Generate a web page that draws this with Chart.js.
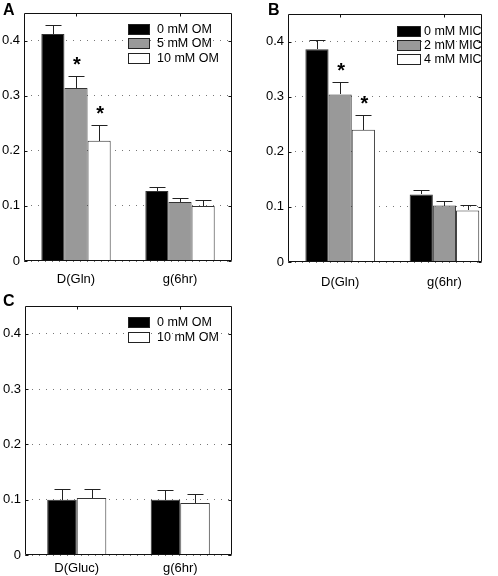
<!DOCTYPE html>
<html>
<head>
<meta charset="utf-8">
<script src="https://cdn.jsdelivr.net/npm/chart.js@4.4.1/dist/chart.umd.min.js"></script>
<style>
body { margin: 0; background: #fff; }
#wrap { position: relative; width: 498px; height: 576px; background: #fff; }
canvas { position: absolute; }
</style>
</head>
<body>
<div id="wrap">
<canvas id="chartA" width="250" height="290" style="left:0;top:0"></canvas>
<canvas id="chartB" width="248" height="290" style="left:250px;top:0"></canvas>
<canvas id="chartC" width="250" height="286" style="left:0;top:290px"></canvas>
</div>
<script>
// categories and ticks
const catsGln = ['D(Gln)', 'g(6hr)'];
const catsGluc = ['D(Gluc)', 'g(6hr)'];
const catPos = [1, 2];
const yTicks = [0, 0.1, 0.2, 0.3, 0.4];

// A: OM, glutamine
const omLabels = ['0 mM OM', '5 mM OM', '10 mM OM'];
const omMean0 = [0.412, 0.127];
const omMean5 = [0.314, 0.107];
const omMean10 = [0.218, 0.100];
const omErr0 = [0.016, 0.008];
const omErr5 = [0.021, 0.008];
const omErr10 = [0.028, 0.010];
const omSig5 = [true, false];
const omSig10 = [true, false];

// B: MIC, glutamine
const micLabels = ['0 mM MIC', '2 mM MIC', '4 mM MIC'];
const micMean0 = [0.386, 0.1225];
const micMean2 = [0.304, 0.1025];
const micMean4 = [0.240, 0.0935];
const micErr0 = [0.017, 0.0075];
const micErr2 = [0.023, 0.0075];
const micErr4 = [0.026, 0.0095];
const micSig2 = [true, false];
const micSig4 = [true, false];

// C: OM, glucose
const glucLabels = ['0 mM OM', '10 mM OM'];
const glucMean0 = [0.100, 0.100];
const glucMean10 = [0.103, 0.094];
const glucErr0 = [0.019, 0.0175];
const glucErr10 = [0.016, 0.016];

const BLACK = '#000000', GRAY = '#999999', WHITE = '#ffffff';
const FONT = '"Liberation Sans", Arial, sans-serif';

function series(label, color, means, errs, sig) {
    return {
        label: label,
        data: catPos.map((x, i) => ({ x: x, y: means[i] })),
        errors: errs,
        stars: sig || [],
        backgroundColor: color,
        borderColor: '#333',
        borderWidth: 1,
        barPercentage: 1
    };
}

const figPlugin = {
    id: 'fig',
    afterDatasetsDraw(chart) {
        const ctx = chart.ctx;
        const y = chart.scales.y;
        ctx.save();
        chart.data.datasets.forEach((ds, i) => {
            chart.getDatasetMeta(i).data.forEach((bar, j) => {
                const top = Math.round(y.getPixelForValue(ds.data[j].y + ds.errors[j])) + 0.5;
                const cx = Math.round(bar.x) + 0.5;
                ctx.strokeStyle = '#222';
                ctx.lineWidth = 1;
                ctx.beginPath();
                ctx.moveTo(cx, Math.round(bar.y));
                ctx.lineTo(cx, top);
                ctx.moveTo(cx - 8, top);
                ctx.lineTo(cx + 8, top);
                ctx.stroke();
                if (ds.stars[j]) {
                    ctx.fillStyle = '#000';
                    ctx.font = 'bold 20px ' + FONT;
                    ctx.textAlign = 'center';
                    ctx.textBaseline = 'alphabetic';
                    ctx.fillText('*', bar.x + 1, top - 5.5);
                }
            });
        });
        ctx.restore();
    },
    afterDraw(chart, args, opts) {
        const ctx = chart.ctx;
        const a = chart.chartArea;
        const xs = chart.scales.x, ys = chart.scales.y;
        const L = Math.round(a.left) + 0.5, R = Math.round(a.right) - 0.5;
        const T = Math.round(a.top) + 0.5, B = Math.round(a.bottom) - 0.5;
        ctx.save();
        ctx.strokeStyle = '#111';
        ctx.lineWidth = 1;
        ctx.beginPath();
        ctx.rect(L, T, R - L, B - T);
        // inward ticks
        catPos.forEach(v => {
            const px = Math.round(xs.getPixelForValue(v)) + 0.5;
            ctx.moveTo(px, T); ctx.lineTo(px, T + 3);
        });
        yTicks.forEach(v => {
            const py = Math.round(ys.getPixelForValue(v)) + 0.5;
            ctx.moveTo(L, py); ctx.lineTo(L + 3, py);
            ctx.moveTo(R, py); ctx.lineTo(R - 3, py);
        });
        ctx.stroke();

        // legend
        const lg = opts.legend;
        ctx.font = '12.5px ' + FONT;
        ctx.textAlign = 'left';
        ctx.textBaseline = 'middle';
        chart.data.datasets.forEach((ds, i) => {
            const cy = lg.y + i * lg.row;
            ctx.fillStyle = ds.backgroundColor;
            ctx.fillRect(lg.x, Math.round(cy - lg.h / 2), lg.w, lg.h);
            ctx.strokeStyle = '#222';
            ctx.strokeRect(lg.x + 0.5, Math.round(cy - lg.h / 2) + 0.5, lg.w - 1, lg.h - 1);
            ctx.fillStyle = '#000';
            ctx.fillText(ds.label, lg.x + lg.w + lg.gap, cy + 0.5);
        });

        // panel letter
        ctx.font = 'bold 16px ' + FONT;
        ctx.textBaseline = 'alphabetic';
        ctx.fillStyle = '#000';
        ctx.fillText(opts.letter, opts.letterX, opts.letterY);
        ctx.restore();
    }
};

function makeChart(id, cats, datasets, p) {
    return new Chart(document.getElementById(id), {
        type: 'bar',
        data: { datasets: datasets },
        options: {
            responsive: false,
            animation: false,
            layout: { padding: { top: p.top, right: p.right, left: 0, bottom: 0 } },
            plugins: {
                legend: { display: false },
                tooltip: { enabled: false },
                fig: { legend: p.legend, letter: p.letter, letterX: p.letterX, letterY: p.letterY }
            },
            scales: {
                x: {
                    type: 'linear',
                    min: 0.5,
                    max: p.xMax,
                    offset: false,
                    grid: { display: false, offset: false, drawTicks: false },
                    border: { display: false },
                    afterBuildTicks: s => { s.ticks = catPos.map(v => ({ value: v })); },
                    afterFit: s => { s.height = p.xHeight; },
                    ticks: {
                        autoSkip: false,
                        maxRotation: 0,
                        padding: p.xPad,
                        color: '#000',
                        font: { family: FONT, size: 13 },
                        callback: v => cats[catPos.indexOf(v)]
                    }
                },
                y: {
                    min: 0,
                    max: 0.45,
                    grid: { color: '#777', lineWidth: 1, drawTicks: false },
                    border: { display: false, dash: [1, 6] },
                    afterBuildTicks: s => { s.ticks = yTicks.map(v => ({ value: v })); },
                    afterFit: s => { s.width = p.yWidth; },
                    ticks: {
                        padding: 4,
                        color: '#000',
                        font: { family: FONT, size: 13 },
                        callback: v => (v === 0 ? '0' : v.toFixed(1))
                    }
                }
            }
        },
        plugins: [figPlugin]
    });
}

function grouped(list, share) {
    return list.map(d => Object.assign(d, { categoryPercentage: share }));
}

makeChart('chartA', catsGln, grouped([
    series(omLabels[0], BLACK, omMean0, omErr0),
    series(omLabels[1], GRAY, omMean5, omErr5, omSig5),
    series(omLabels[2], WHITE, omMean10, omErr10, omSig10)
], 0.667), {
    top: 13, right: 18, yWidth: 24, xHeight: 29, xMax: 2.5, xPad: 11,
    legend: { x: 128, y: 29, w: 22, h: 11, row: 14.5, gap: 7 },
    letter: 'A', letterX: 3, letterY: 15
});

makeChart('chartB', catsGln, grouped([
    series(micLabels[0], BLACK, micMean0, micErr0),
    series(micLabels[1], GRAY, micMean2, micErr2, micSig2),
    series(micLabels[2], WHITE, micMean4, micErr4, micSig4)
], 0.667), {
    top: 14, right: 16, yWidth: 38, xHeight: 28, xMax: 2.36, xPad: 13,
    legend: { x: 147, y: 31, w: 24, h: 11, row: 14, gap: 3 },
    letter: 'B', letterX: 18, letterY: 15
});

makeChart('chartC', catsGluc, grouped([
    series(glucLabels[0], BLACK, glucMean0, glucErr0),
    series(glucLabels[1], WHITE, glucMean10, glucErr10)
], 0.571), {
    top: 16, right: 18, yWidth: 25, xHeight: 21, xMax: 2.5, xPad: 6,
    legend: { x: 128, y: 32, w: 22, h: 11, row: 15, gap: 7 },
    letter: 'C', letterX: 3, letterY: 16
});
</script>
</body>
</html>
